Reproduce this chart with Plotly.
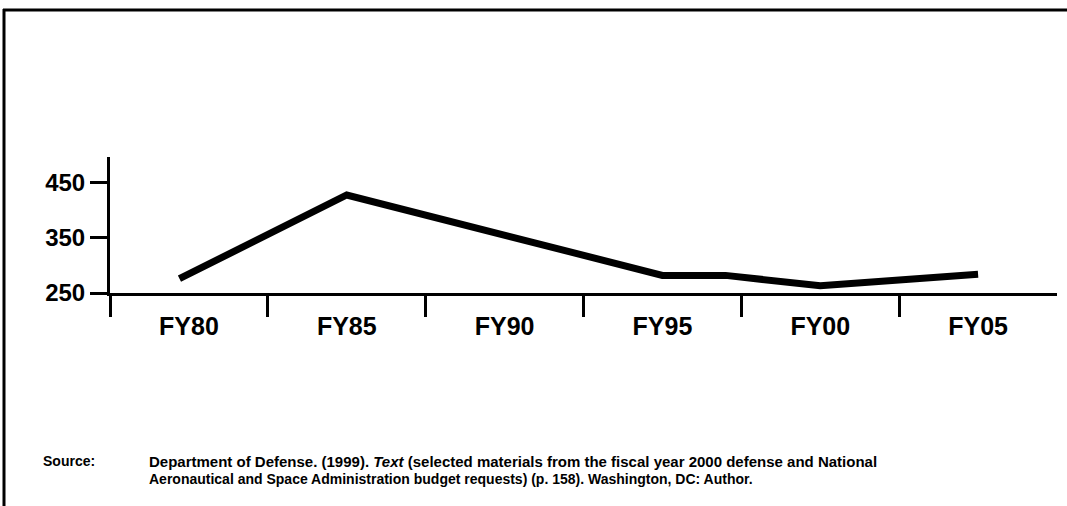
import plotly.graph_objects as go

# Data
fiscal_years = [1979.7, 1985, 1995, 1997, 2000, 2005]
values = [276, 428, 282, 282, 263, 284]

tick_years = [1980, 1985, 1990, 1995, 2000, 2005]
tick_labels = ["FY80", "FY85", "FY90", "FY95", "FY00", "FY05"]
boundary_years = [1977.5, 1982.5, 1987.5, 1992.5, 1997.5, 2002.5]
y_ticks = [250, 350, 450]

W, H = 1067, 506
L, R, T, B = 110, 10, 157, 213
pw = W - L - R
ph = H - T - B

def px_x(p):
    return (p - L) / pw

def px_y(p):
    return (H - B - p) / ph

font_family = "Liberation Sans, Arial, Helvetica, sans-serif"

fig = go.Figure()
fig.add_trace(go.Scatter(
    x=fiscal_years, y=values, mode="lines",
    line=dict(color="black", width=7),
    hoverinfo="skip", showlegend=False,
))

fig.update_layout(
    width=W, height=H,
    margin=dict(l=L, r=R, t=T, b=B, pad=0),
    paper_bgcolor="white", plot_bgcolor="white",
    showlegend=False,
    xaxis=dict(
        range=[1977.5, 2007.5],
        tickvals=tick_years, ticktext=tick_labels,
        ticks="", showgrid=False, zeroline=False,
        showline=True, linecolor="black", linewidth=3,
        tickfont=dict(family=font_family, size=25, color="black", weight="bold"),
        ticklabelstandoff=9,
        minor=dict(tickvals=boundary_years, ticks="outside", ticklen=21,
                   tickwidth=3, tickcolor="black", showgrid=False),
    ),
    yaxis=dict(
        range=[250, 497],
        tickvals=y_ticks,
        ticks="outside", ticklen=17, tickwidth=3, tickcolor="black",
        showgrid=False, zeroline=False,
        showline=True, linecolor="black", linewidth=3,
        tickfont=dict(family=font_family, size=24, color="black", weight="bold"),
        ticklabelstandoff=0,
    ),
)

# frame lines (top and left)
fig.add_shape(type="line", xref="paper", yref="paper",
              x0=px_x(3), x1=px_x(1067), y0=px_y(10), y1=px_y(10),
              line=dict(color="black", width=3))
fig.add_shape(type="line", xref="paper", yref="paper",
              x0=px_x(4), x1=px_x(4), y0=px_y(9), y1=px_y(506),
              line=dict(color="black", width=3))

fig.add_annotation(xref="paper", yref="paper", x=px_x(41), y=px_y(461),
                   xanchor="left", yanchor="middle", showarrow=False,
                   text="<b>Source:</b>",
                   font=dict(family=font_family, size=14, color="black"))
fig.add_annotation(xref="paper", yref="paper", x=px_x(147), y=px_y(461),
                   xanchor="left", yanchor="middle", showarrow=False,
                   text="<b>Department of Defense. (1999). <i>Text</i> (selected materials from the fiscal year 2000 defense and National</b>",
                   font=dict(family=font_family, size=15, color="black"))
fig.add_annotation(xref="paper", yref="paper", x=px_x(147), y=px_y(479),
                   xanchor="left", yanchor="middle", showarrow=False,
                   text="<b>Aeronautical and Space Administration budget requests) (p. 158). Washington, DC: Author.</b>",
                   font=dict(family=font_family, size=14, color="black"))

fig.write_html("out.html", config={"displayModeBar": False},
               post_script="document.body.style.margin='0';")
